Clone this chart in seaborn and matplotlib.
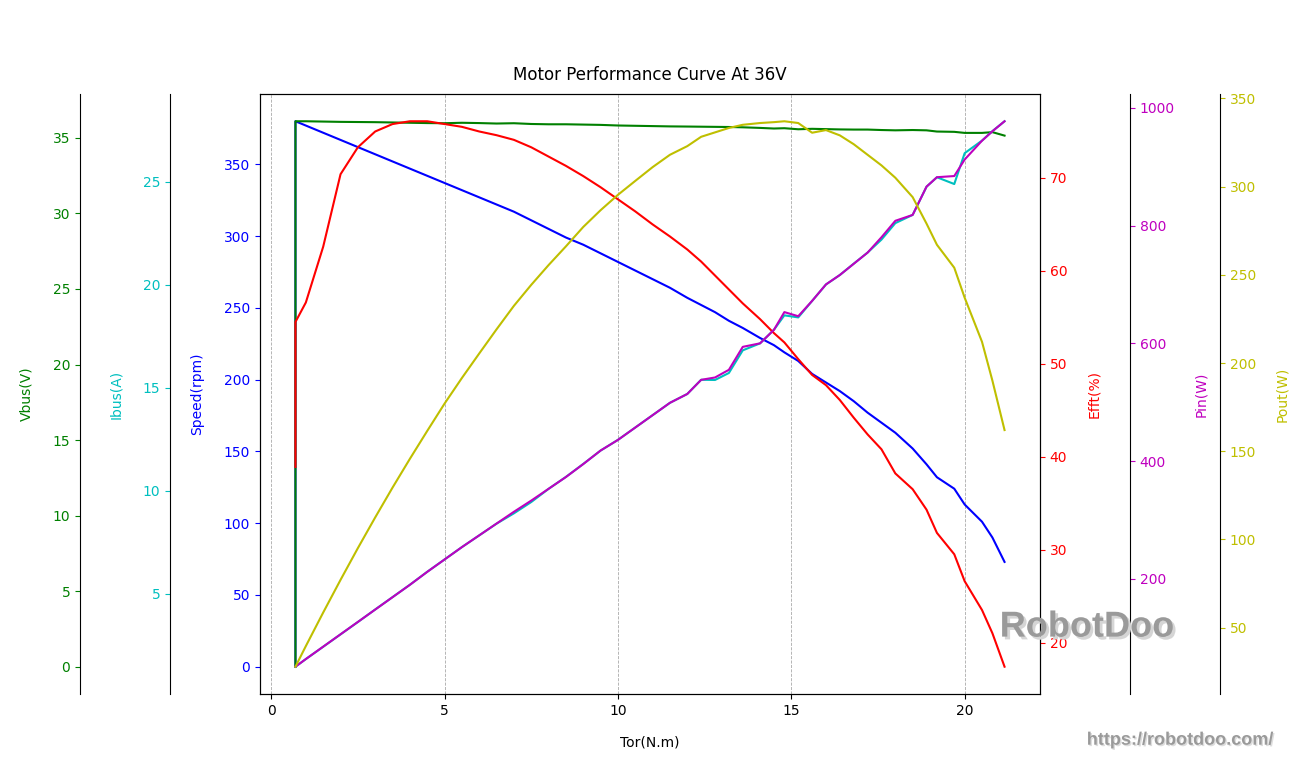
import numpy as np
import matplotlib.pyplot as plt
import matplotlib.patheffects as pe
from matplotlib.ticker import MultipleLocator
import seaborn as sns

# Motor test data, 36V supply
torque = [0.7, 0.7, 1.0, 1.5, 2.0, 2.5, 3.0, 3.5, 4.0, 4.5, 5.0, 5.5, 6.0, 6.5, 7.0, 7.5, 8.0, 8.5,
          9.0, 9.5, 10.0, 10.5, 11.0, 11.5, 12.0, 12.4, 12.8, 13.2, 13.6, 14.1, 14.5, 14.8, 15.2, 15.6,
          16.0, 16.4, 16.8, 17.2, 17.6, 18.0, 18.5, 18.9, 19.2, 19.7, 20.0, 20.5, 20.8, 21.15]
speed = [0, 380, 377, 372, 367, 362, 357, 352, 347, 342, 337, 332, 327, 322, 317, 311, 305, 299,
         294, 288, 282, 276, 270, 264, 257, 252, 247, 241, 236, 229, 224, 219, 213, 204,
         198, 192, 185, 177, 170, 163, 152, 141, 132, 124, 113, 101, 90, 73]
vbus = [0, 36.1, 36.1, 36.08, 36.06, 36.05, 36.04, 36.02, 36.0, 35.98, 35.97, 36.0, 35.98, 35.95,
        35.97, 35.92, 35.9, 35.9, 35.88, 35.86, 35.82, 35.8, 35.78, 35.76, 35.75, 35.74, 35.73,
        35.72, 35.7, 35.66, 35.62, 35.64, 35.57, 35.6, 35.58, 35.56, 35.55, 35.55, 35.52, 35.5,
        35.52, 35.5, 35.42, 35.4, 35.33, 35.33, 35.38, 35.15]
ibus = [1.45, 1.45, 1.82, 2.42, 3.02, 3.62, 4.23, 4.83, 5.43, 6.06, 6.66, 7.26, 7.83, 8.40, 8.90,
        9.45, 10.09, 10.67, 11.30, 11.95, 12.47, 13.07, 13.67, 14.27, 14.70, 15.39, 15.38, 15.72,
        16.82, 17.16, 17.82, 18.52, 18.42, 19.22, 20.02, 20.48, 21.03, 21.57, 22.2, 23.0, 23.40,
        24.77, 25.23, 24.9, 26.4, 27.01, 27.47, 27.95]
efft = [38.9, 54.5, 56.6, 62.6, 70.4, 73.3, 75.0, 75.8, 76.1, 76.1, 75.8, 75.5, 75.0, 74.6, 74.1,
        73.3, 72.3, 71.3, 70.2, 69.0, 67.7, 66.4, 65.0, 63.7, 62.3, 61.0, 59.5, 58.0, 56.5, 54.8,
        53.3, 52.3, 50.5, 48.8, 47.7, 46.1, 44.2, 42.4, 40.8, 38.2, 36.5, 34.3, 31.8, 29.5, 26.6,
        23.5, 21.0, 17.4]
pin = [51, 51, 64, 85, 106, 127, 148, 169, 190, 212, 233, 254, 274, 294, 314, 333, 353, 373,
       395, 418, 436, 457, 478, 499, 514, 538, 542, 555, 594, 600, 623, 653, 646, 672,
       700, 716, 735, 754, 780, 808, 818, 866, 882, 884, 912, 944, 960, 977]
pout = [27.9, 27.9, 39.6, 58.6, 77.1, 95.1, 112.5, 129.4, 145.7, 161.5, 177.0, 191.5, 205.4,
        219.1, 232.4, 244.3, 255.5, 266.1, 277.1, 286.6, 295.3, 303.2, 311.0, 318.0, 322.9,
        328.2, 330.7, 333.2, 335.0, 336.0, 336.5, 337.0, 336.0, 330.5, 332.0, 329.0, 324.0,
        318.0, 312.0, 305.0, 294.0, 279.0, 267.0, 254.0, 237.0, 212.0, 190.0, 162.0]

fig = plt.figure(figsize=(13, 7.8), dpi=100)
ax = fig.add_axes([0.2, 0.1103, 0.6, 0.7692])


def extra_axis(side, offset):
    tw = ax.twinx()
    for s in ["top", "bottom", "left", "right"]:
        tw.spines[s].set_visible(False)
    tw.spines[side].set_visible(True)
    tw.spines[side].set_position(("axes", offset))
    if side == "left":
        tw.yaxis.tick_left()
        tw.yaxis.set_label_position("left")
    return tw


ax_v = extra_axis("left", -0.2308)
ax_i = extra_axis("left", -0.1154)
ax_e = ax.twinx()
ax_p = extra_axis("right", 1.1154)
ax_o = extra_axis("right", 1.2308)

series = [
    (ax, speed, "b", "Speed(rpm)"),
    (ax_v, vbus, "g", "Vbus(V)"),
    (ax_i, ibus, "c", "Ibus(A)"),
    (ax_e, efft, "r", "Efft(%)"),
    (ax_p, pin, "m", "Pin(W)"),
    (ax_o, pout, "y", "Pout(W)"),
]
for a, vals, c, lab in series:
    sns.lineplot(x=torque, y=vals, ax=a, color=c, estimator=None, sort=False, linewidth=1.5)
    a.set_ylabel(lab, color=c, labelpad=14)
    a.tick_params(axis="y", colors=c)

ax.xaxis.set_major_locator(MultipleLocator(5))
ax.grid(axis="x", linestyle="--", linewidth=0.6, color="#aaaaaa")
ax.set_xlabel("Tor(N.m)", labelpad=13)
ax.set_title("Motor Performance Curve At 36V", pad=10)

fig.text(0.769, 0.196, "RobotDoo", fontsize=26, fontweight="bold", color="#9a9a9a",
         family="Liberation Sans", va="center",
         path_effects=[pe.withSimplePatchShadow(offset=(2, -2), shadow_rgbFace="#d5d5d5", alpha=1)])
fig.text(0.836, 0.051, "https://robotdoo.com/", fontsize=13, fontweight="bold", color="#9a9a9a",
         family="Liberation Sans", va="center",
         path_effects=[pe.withSimplePatchShadow(offset=(1, -1), shadow_rgbFace="#dddddd", alpha=1)])

plt.savefig("out.png", dpi=100)
